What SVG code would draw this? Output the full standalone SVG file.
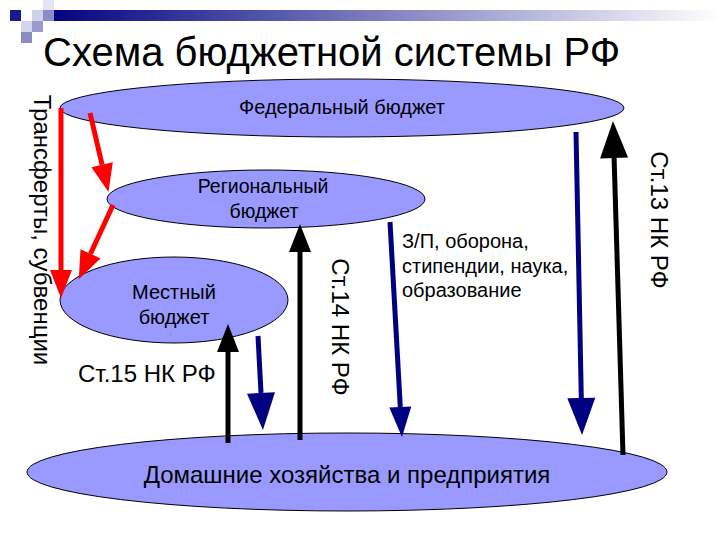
<svg xmlns="http://www.w3.org/2000/svg" width="720" height="540" viewBox="0 0 720 540">
<defs>
<linearGradient id="bar" x1="0" y1="0" x2="1" y2="0">
<stop offset="0" stop-color="#000080"/>
<stop offset="0.5" stop-color="#8080c0"/>
<stop offset="1" stop-color="#ffffff"/>
</linearGradient>
<marker id="hRed" markerUnits="userSpaceOnUse" markerWidth="30" markerHeight="24" refX="0" refY="11" orient="auto" viewBox="0 0 30 22" overflow="visible"><path d="M0,0 L28,11 L0,22 Z" fill="#ff0000"/></marker>
<marker id="hBlack" markerUnits="userSpaceOnUse" markerWidth="30" markerHeight="24" refX="0" refY="11" orient="auto" viewBox="0 0 30 22" overflow="visible"><path d="M0,0 L28,11 L0,22 Z" fill="#000000"/></marker>
<marker id="hBlackL" markerUnits="userSpaceOnUse" markerWidth="38" markerHeight="28" refX="0" refY="14" orient="auto" viewBox="0 0 38 28" overflow="visible"><path d="M0,0 L37,14 L0,28 Z" fill="#000000"/></marker>
<marker id="hNavy" markerUnits="userSpaceOnUse" markerWidth="30" markerHeight="22" refX="0" refY="11" orient="auto" viewBox="0 0 30 22" overflow="visible"><path d="M0,0 L30,11 L0,22 Z" fill="#000080"/></marker>
<marker id="hNavyL" markerUnits="userSpaceOnUse" markerWidth="38" markerHeight="28" refX="0" refY="14" orient="auto" viewBox="0 0 38 28" overflow="visible"><path d="M0,0 L37,14 L0,28 Z" fill="#000080"/></marker>
</defs>
<style>
.ell{fill:#9999ff;stroke:#000000;stroke-width:1}
.t{font-family:"Liberation Sans",Arial,sans-serif;fill:#000000}
.red{stroke:#ff0000;stroke-width:5;fill:none;marker-end:url(#hRed)}
.blk{stroke:#000000;stroke-width:5;fill:none}
.nav{stroke:#000080;stroke-width:5;fill:none}
</style>
<rect width="720" height="540" fill="#ffffff"/>
<g id="decor">
<rect x="43" y="10" width="677" height="11" fill="url(#bar)"/>
<rect x="10" y="10" width="11" height="11" fill="#1a1a8c"/>
<rect x="32" y="10" width="11" height="11" fill="#d0d0ec"/>
<rect x="43" y="0" width="11" height="10" fill="#e4e4f4"/>
<rect x="43" y="10" width="11" height="11" fill="#8c8cc8"/>
<rect x="21" y="21" width="11" height="11" fill="#d4d4ec"/>
<rect x="32" y="21" width="11" height="11" fill="#9a9acc"/>
<rect x="21" y="32" width="11" height="11" fill="#8c8cc4"/>
</g>
<text class="t" x="43" y="66" font-size="40">Схема бюджетной системы РФ</text>
<g id="federal">
<ellipse class="ell" cx="342" cy="108" rx="282" ry="29"/>
<text class="t" x="342" y="114" font-size="20" text-anchor="middle">Федеральный бюджет</text>
</g>
<g id="regional">
<ellipse class="ell" cx="266" cy="199" rx="159" ry="29"/>
<text class="t" x="263" y="193" font-size="19.5" text-anchor="middle">Региональный</text>
<text class="t" x="264" y="218" font-size="19.5" text-anchor="middle">бюджет</text>
</g>
<g id="local">
<ellipse class="ell" cx="174" cy="300" rx="114" ry="43"/>
<text class="t" x="174" y="299" font-size="20" text-anchor="middle">Местный</text>
<text class="t" x="174" y="324" font-size="20" text-anchor="middle">бюджет</text>
</g>
<g id="households">
<ellipse class="ell" cx="347" cy="472" rx="320" ry="39"/>
<text class="t" x="347" y="483" font-size="24" text-anchor="middle">Домашние хозяйства и предприятия</text>
</g>
<g id="connectors">
<line class="red" x1="61" y1="108" x2="61" y2="270"/>
<line class="red" x1="90" y1="113" x2="102.1" y2="164.7"/>
<line class="red" x1="113" y1="205" x2="90.5" y2="253.8"/>
<line class="blk" x1="228" y1="443" x2="228" y2="352" marker-end="url(#hBlack)"/>
<line class="blk" x1="300" y1="440" x2="300" y2="252" marker-end="url(#hBlack)"/>
<line class="blk" x1="623" y1="455" x2="614.1" y2="158" marker-end="url(#hBlackL)"/>
<line class="nav" x1="258" y1="336" x2="261" y2="393" marker-end="url(#hNavyL)"/>
<line class="nav" x1="390" y1="222" x2="400.3" y2="407" marker-end="url(#hNavy)"/>
<line class="nav" x1="576" y1="132" x2="581.3" y2="398" marker-end="url(#hNavyL)"/>
</g>
<g id="labels">
<text class="t" font-size="24" text-anchor="middle" transform="translate(34,230) rotate(90)">Трансферты, субвенции</text>
<text class="t" font-size="24" text-anchor="middle" transform="translate(332,327) rotate(90)">Ст.14 НК РФ</text>
<text class="t" font-size="24" text-anchor="middle" transform="translate(651,220) rotate(90)">Ст.13 НК РФ</text>
<text class="t" x="78" y="382" font-size="24">Ст.15 НК РФ</text>
<text class="t" font-size="20"><tspan x="402" y="248">З/П, оборона,</tspan><tspan x="402" y="273">стипендии, наука,</tspan><tspan x="402" y="297">образование</tspan></text>
</g>
</svg>
